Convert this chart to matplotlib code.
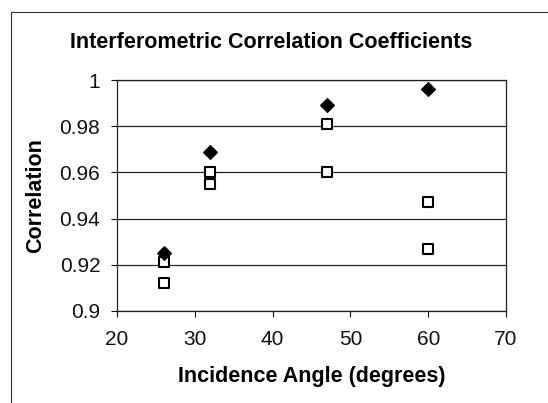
import matplotlib
matplotlib.use("Agg")
import matplotlib.pyplot as plt
from matplotlib.patches import Rectangle

plt.rcParams['font.family'] = ['Liberation Sans', 'DejaVu Sans']

# diamond series (upper values)
angle_a = [26, 32, 47, 60]
corr_a = [0.925, 0.969, 0.989, 0.996]

# square series (two per angle)
angle_b = [26, 26, 32, 32, 47, 47, 60, 60]
corr_b = [0.921, 0.912, 0.960, 0.955, 0.981, 0.960, 0.947, 0.927]

xticks = [20, 30, 40, 50, 60, 70]
yticks = [0.9, 0.92, 0.94, 0.96, 0.98, 1.0]
ytick_labels = ["0.9", "0.92", "0.94", "0.96", "0.98", "1"]

fig = plt.figure(figsize=(5.48, 4.03), dpi=100)
ax = fig.add_axes([117/548, 1 - 311/403, (506-117)/548, (311-80)/403])

# outer chart border
fig.patches.append(Rectangle((11/548, -0.01), 1.0, 1 - 12/403 + 0.01,
                             transform=fig.transFigure, fill=False,
                             edgecolor='#333333', linewidth=0.8))

ax.scatter(angle_b, corr_b, marker='s', s=60, facecolor='white',
           edgecolor='black', linewidths=1.5, zorder=3)
ax.scatter(angle_a, corr_a, marker='D', s=48, color='black', zorder=4)

ax.set_xlim(20, 70)
ax.set_ylim(0.9, 1.0)
ax.set_xticks(xticks)
ax.set_yticks(yticks)
ax.set_yticklabels(ytick_labels)
ax.yaxis.grid(True, color='#222222', linewidth=0.9)
ax.set_axisbelow(True)
for s in ax.spines.values():
    s.set_color('#222222')
    s.set_linewidth(0.9)
ax.tick_params(direction='out', length=4, labelsize=15, colors='#111111')
ax.tick_params(axis='x', pad=10)
ax.tick_params(axis='y', pad=8)

ax.set_xlabel("Incidence Angle (degrees)", fontsize=15.5, fontweight='bold', labelpad=12)
ax.set_ylabel("Correlation", fontsize=15.5, fontweight='bold', labelpad=10)
fig.text(271/548, 1 - 42/403, "Interferometric Correlation Coefficients",
         ha='center', va='center', fontsize=15.5, fontweight='bold')

fig.savefig("out.png", dpi=100)
